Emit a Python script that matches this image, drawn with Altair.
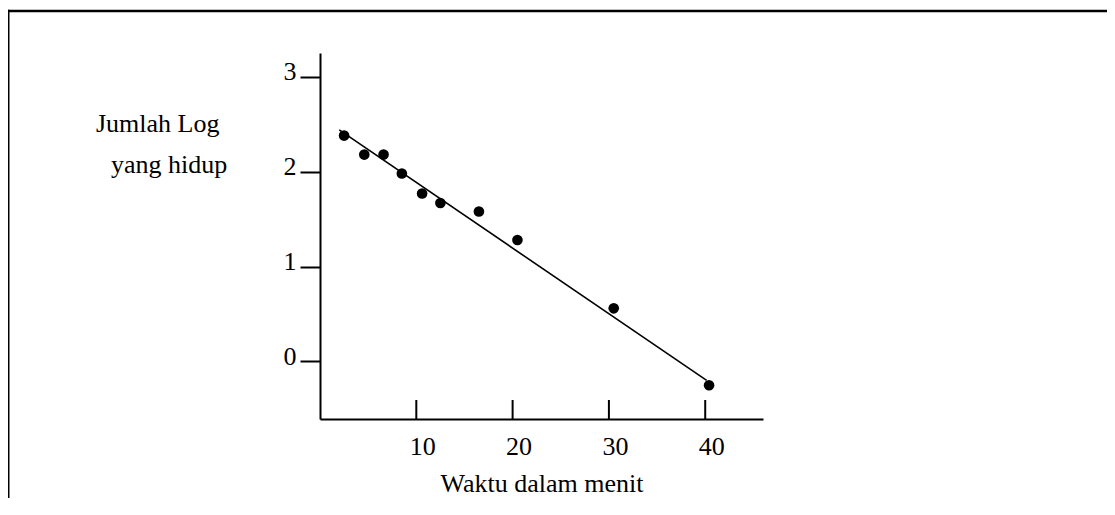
import altair as alt
import pandas as pd

# ---- data ----
waktu = [2.5, 4.6, 6.6, 8.5, 10.6, 12.5, 16.5, 20.5, 30.5, 40.4]
log_hidup = [2.38, 2.18, 2.18, 1.98, 1.77, 1.67, 1.58, 1.28, 0.56, -0.25]

fit_x = [2.0, 40.15]
fit_y = [2.44, -0.20]

x_ticks = [10, 20, 30, 40]
y_ticks = [0, 1, 2, 3]

y_title_lines = ["Jumlah Log", "yang hidup"]
x_title = "Waktu dalam menit"

FONT = "Liberation Serif"
FS = 26
W, H = 443, 366

x_scale = alt.Scale(domain=[0, 46], nice=False, zero=False)
y_scale = alt.Scale(domain=[-0.606, 3.25], nice=False, zero=False)

pts = pd.DataFrame({"x": waktu, "y": log_hidup})
fit = pd.DataFrame({"x": fit_x, "y": fit_y})
xt = pd.DataFrame({"x": x_ticks})

x_axis = alt.Axis(values=x_ticks, ticks=False, tickSize=0, domainWidth=2,
                  domainColor="black", labelFont=FONT, labelFontSize=FS,
                  labelColor="black", labelPadding=14, labelOffset=6,
                  labelFlush=False, labelOverlap=False, grid=False, title=None,
                  format="d")
y_axis = alt.Axis(values=y_ticks, tickSize=20, tickWidth=2, tickColor="black",
                  domainWidth=2, domainColor="black", labelFont=FONT,
                  labelFontSize=FS, labelColor="black", labelPadding=4,
                  labelBaseline="alphabetic", labelOffset=3, labelFlush=False,
                  labelOverlap=False, grid=False, title=None, format="d")

points = alt.Chart(pts).mark_circle(size=113, color="black", opacity=1).encode(
    x=alt.X("x:Q", scale=x_scale, axis=x_axis),
    y=alt.Y("y:Q", scale=y_scale, axis=y_axis),
)

line = alt.Chart(fit).mark_line(color="black", strokeWidth=1.6).encode(
    x=alt.X("x:Q", scale=x_scale),
    y=alt.Y("y:Q", scale=y_scale),
)

xticks = alt.Chart(xt).mark_rule(color="black", strokeWidth=2).encode(
    x=alt.X("x:Q", scale=x_scale),
    y=alt.value(H - 19),
    y2=alt.value(H),
)

one = pd.DataFrame({"k": [0]})

t1 = alt.Chart(one).mark_text(align="left", baseline="alphabetic", font=FONT,
                              fontSize=FS, color="black").encode(
    x=alt.value(-224), y=alt.value(78.7), text=alt.value(y_title_lines[0]))
t2 = alt.Chart(one).mark_text(align="left", baseline="alphabetic", font=FONT,
                              fontSize=FS, color="black").encode(
    x=alt.value(-209), y=alt.value(120.3), text=alt.value(y_title_lines[1]))
t3 = alt.Chart(one).mark_text(align="center", baseline="alphabetic", font=FONT,
                              fontSize=FS, color="black").encode(
    x=alt.value(222), y=alt.value(439), text=alt.value(x_title))

frame_left = alt.Chart(one).mark_rule(color="black", strokeWidth=2.4).encode(
    x=alt.value(-311.7), y=alt.value(-43.2), y2=alt.value(460))
frame_top = alt.Chart(one).mark_rule(color="black", strokeWidth=2.4).encode(
    x=alt.value(-312.9), x2=alt.value(800), y=alt.value(-42))

chart = alt.layer(frame_left, frame_top, line, points, xticks, t1, t2, t3).properties(
    width=W, height=H,
    autosize=alt.AutoSizeParams(type="none"),
    padding={"left": 312, "top": 45, "right": 344, "bottom": 79},
    background="white",
).configure_view(stroke=None)

chart.save("out.html", embed_options={"renderer": "svg", "actions": False})
